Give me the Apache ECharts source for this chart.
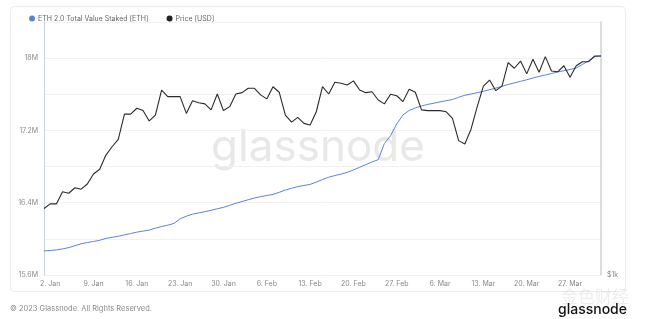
<!DOCTYPE html>
<html>
<head>
<meta charset="utf-8">
<script src="https://cdn.jsdelivr.net/npm/echarts@6/dist/echarts.min.js"></script>
<style>
html,body{margin:0;padding:0;background:#fff;}
#chart{width:650px;height:319px;}
</style>
</head>
<body>
<div id="chart"></div>
<script>
// Daily categories: 1 Jan 2023 .. 1 Apr 2023
const startDate = '2023-01-01';
const dayCount = 91;
const monthNames = ['Jan','Feb','Mar','Apr','May','Jun','Jul','Aug','Sep','Oct','Nov','Dec'];

// ETH 2.0 Total Value Staked [ETH] (millions)
const stakedM = [
 15.866,15.871,15.878,15.889,15.903,15.924,15.946,15.959,15.971,15.984,
 16.005,16.017,16.029,16.044,16.059,16.074,16.086,16.097,16.118,16.137,
 16.151,16.171,16.222,16.251,16.273,16.287,16.301,16.316,16.333,16.349,
 16.371,16.394,16.413,16.433,16.452,16.467,16.480,16.492,16.515,16.540,
 16.560,16.578,16.591,16.603,16.628,16.656,16.682,16.701,16.717,16.736,
 16.763,16.792,16.822,16.851,16.876,17.055,17.142,17.273,17.371,17.421,
 17.449,17.471,17.488,17.501,17.516,17.529,17.542,17.567,17.589,17.603,
 17.618,17.633,17.651,17.668,17.688,17.709,17.726,17.743,17.761,17.780,
 17.798,17.813,17.830,17.847,17.861,17.875,17.891,17.930,17.971,18.017,
 18.024
];

// Price [USD]
const priceUSD = [
 1200,1215,1215,1256,1251,1270,1265,1283,1319,1336,
 1389,1421,1450,1554,1554,1579,1569,1525,1550,1660,
 1630,1630,1630,1557,1612,1603,1598,1572,1642,1569,
 1586,1642,1648,1668,1668,1638,1620,1675,1650,1550,
 1520,1540,1515,1508,1564,1675,1642,1696,1691,1683,
 1702,1660,1648,1652,1615,1598,1641,1634,1608,1663,
 1650,1572,1569,1569,1569,1564,1536,1445,1432,1491,
 1586,1678,1706,1657,1678,1789,1762,1797,1735,1806,
 1743,1819,1749,1745,1774,1719,1774,1794,1794,1822,
 1822
];

// left axis ticks (millions), right axis ticks (USD)
const leftTicksShown = [15.6, 16.4, 17.2, 18.0];
const rightTicksShown = [1000];

const categories = [];
{
  const d0 = new Date(startDate + 'T00:00:00Z');
  for (let i = 0; i < dayCount; i++) {
    const d = new Date(d0.getTime() + i * 86400000);
    categories.push(d.getUTCDate() + '. ' + monthNames[d.getUTCMonth()]);
  }
}

const chart = echarts.init(document.getElementById('chart'), null, {renderer: 'canvas'});
const font = 'Inter, "Noto Sans", sans-serif';

chart.setOption({
  animation: false,
  backgroundColor: '#fff',
  textStyle: {fontFamily: font},
  graphic: [
    {type: 'rect', z: -10, shape: {x: 10.5, y: 6.5, width: 615, height: 285, r: 4},
     style: {fill: 'none', stroke: '#ececec', lineWidth: 1}},
    {type: 'text', z: 0,
     style: {text: 'glassnode', x: 318, y: 148, align: 'center', verticalAlign: 'middle',
       font: '400 44px ' + font, fill: '#e8e8e8'}},
    {type: 'text', z: 0,
     style: {text: '© 2023 Glassnode. All Rights Reserved.', x: 10, y: 309, verticalAlign: 'middle',
       font: '7.5px ' + font, fill: '#8a8a8a'}},
    {type: 'text', z: 0,
     style: {text: '金色财经', x: 561, y: 297, verticalAlign: 'middle',
       font: '17px "Noto Sans CJK SC"', fill: 'rgba(200,200,200,0.3)'}},
    {type: 'text', z: 1,
     style: {text: 'glassnode', x: 558, y: 310, verticalAlign: 'middle',
       font: '500 14px ' + font, fill: '#111'}}
  ],
  legend: {
    left: 24, top: 10, itemWidth: 6, itemHeight: 6, itemGap: 18, icon: 'circle',
    textStyle: {fontSize: 7, color: '#666', padding: [0, 0, 0, -2]},
    data: ['ETH 2.0 Total Value Staked [ETH]', 'Price [USD]']
  },
  grid: {left: 44, top: 22, right: 49, bottom: 44, containLabel: false},
  xAxis: {
    type: 'category', data: categories, boundaryGap: false,
    axisLine: {show: false}, axisTick: {show: false}, splitLine: {show: false},
    axisLabel: {
      fontSize: 7, color: '#888', margin: 5,
      interval: function (idx) { return (idx - 1) % 7 === 0 && idx >= 1; }
    }
  },
  yAxis: [
    {
      type: 'value', min: 15.6, max: 18.4, interval: 0.4, position: 'left',
      axisLine: {show: true, lineStyle: {color: '#c9d1de', width: 1}},
      axisTick: {show: false},
      splitLine: {show: true, lineStyle: {color: '#f1f1f1', width: 1}},
      axisLabel: {
        fontSize: 7, color: '#8a8a8a', margin: 6, padding: [0, 0, 6, 0],
        formatter: function (v) {
          const r = Math.round(v * 10) / 10;
          return leftTicksShown.some(t => Math.abs(t - r) < 1e-6) ? (r.toFixed(r % 1 === 0 ? 0 : 1) + 'M') : '';
        }
      }
    },
    {
      type: 'log', logBase: 10, min: 1000, max: 2000, position: 'right',
      axisLine: {show: true, lineStyle: {color: '#d2d2d2', width: 1.5}},
      axisTick: {show: false}, splitLine: {show: false},
      axisLabel: {
        fontSize: 7, color: '#8a8a8a', margin: 6, padding: [0, 0, 6, 0],
        formatter: function (v) {
          return rightTicksShown.some(t => Math.abs(t - v) < 1e-6) ? '$' + (v / 1000) + 'k' : '';
        }
      }
    }
  ],
  series: [
    {
      name: 'ETH 2.0 Total Value Staked [ETH]', type: 'line', yAxisIndex: 0,
      data: stakedM, showSymbol: false, symbol: 'circle', z: 3,
      itemStyle: {color: '#5b84d6'},
      lineStyle: {color: '#5b84d6', width: 1}
    },
    {
      name: 'Price [USD]', type: 'line', yAxisIndex: 1,
      data: priceUSD, showSymbol: false, symbol: 'circle', z: 4,
      itemStyle: {color: '#222'},
      lineStyle: {color: '#2a2a2a', width: 1.1}
    }
  ]
});
</script>
</body>
</html>
